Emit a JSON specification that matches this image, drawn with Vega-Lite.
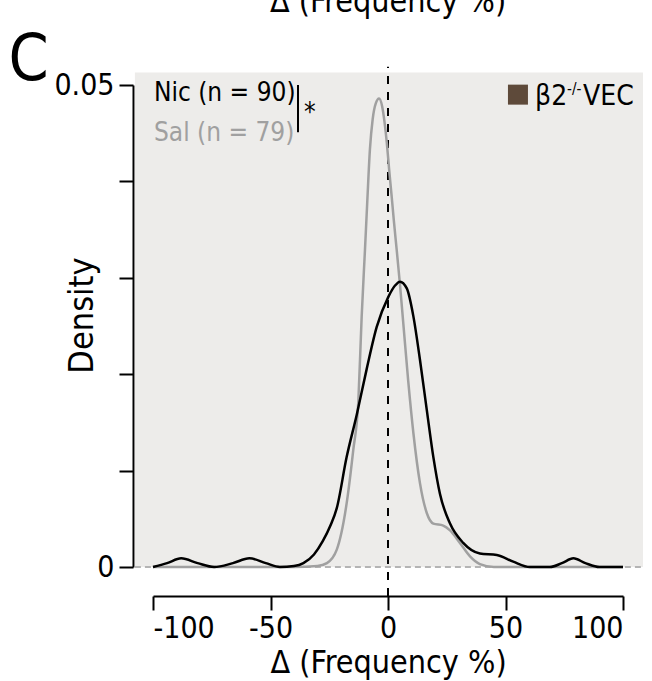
{
  "$schema": "https://vega.github.io/schema/vega-lite/v6.json",
  "width": 470,
  "height": 482,
  "autosize": {"type": "none"},
  "padding": {"left": 153, "top": 85, "right": 29, "bottom": 114},
  "background": "white",
  "data": {"values": [{}]},
  "config": {
    "font": "DejaVu Sans Condensed, Roboto, sans-serif",
    "view": {"stroke": null},
    "axis": {"grid": false, "domainColor": "black", "domainWidth": 2, "tickColor": "black", "tickWidth": 2, "tickSize": 14, "labelColor": "black", "titleColor": "black", "labelFont": "DejaVu Sans Condensed, Roboto, sans-serif", "titleFont": "DejaVu Sans Condensed, Roboto, sans-serif", "titleFontWeight": "normal"}
  },
  "datasets": {
    "curves": [
      {"group": "Nic", "x": -100, "d": 0.0},
      {"group": "Nic", "x": -94, "d": 0.0004},
      {"group": "Nic", "x": -88, "d": 0.0009},
      {"group": "Nic", "x": -81, "d": 0.0004},
      {"group": "Nic", "x": -74, "d": 0.0},
      {"group": "Nic", "x": -66, "d": 0.0004},
      {"group": "Nic", "x": -59, "d": 0.0009},
      {"group": "Nic", "x": -52, "d": 0.0004},
      {"group": "Nic", "x": -46, "d": 0.0},
      {"group": "Nic", "x": -40, "d": 0.0001},
      {"group": "Nic", "x": -36, "d": 0.0004},
      {"group": "Nic", "x": -31.5, "d": 0.0013},
      {"group": "Nic", "x": -27.7, "d": 0.0027},
      {"group": "Nic", "x": -24.5, "d": 0.0043},
      {"group": "Nic", "x": -21.8, "d": 0.0061},
      {"group": "Nic", "x": -17.6, "d": 0.0114},
      {"group": "Nic", "x": -13.3, "d": 0.0158},
      {"group": "Nic", "x": -9.1, "d": 0.0205},
      {"group": "Nic", "x": -4.8, "d": 0.0249},
      {"group": "Nic", "x": 0.1, "d": 0.0280},
      {"group": "Nic", "x": 3, "d": 0.0292},
      {"group": "Nic", "x": 5.1, "d": 0.0296},
      {"group": "Nic", "x": 8, "d": 0.0289},
      {"group": "Nic", "x": 10.8, "d": 0.0260},
      {"group": "Nic", "x": 13.6, "d": 0.0215},
      {"group": "Nic", "x": 16.5, "d": 0.0163},
      {"group": "Nic", "x": 19.3, "d": 0.0114},
      {"group": "Nic", "x": 22.1, "d": 0.0076},
      {"group": "Nic", "x": 26.4, "d": 0.0045},
      {"group": "Nic", "x": 32, "d": 0.0025},
      {"group": "Nic", "x": 39.1, "d": 0.0014},
      {"group": "Nic", "x": 46.3, "d": 0.00125},
      {"group": "Nic", "x": 53.3, "d": 0.00055},
      {"group": "Nic", "x": 60.4, "d": 0.0},
      {"group": "Nic", "x": 68.9, "d": 0.0},
      {"group": "Nic", "x": 74, "d": 0.0004},
      {"group": "Nic", "x": 78.9, "d": 0.0009},
      {"group": "Nic", "x": 84, "d": 0.0004},
      {"group": "Nic", "x": 90, "d": 0.0},
      {"group": "Nic", "x": 100, "d": 0.0},
      {"group": "Sal", "x": -100, "d": 0.0},
      {"group": "Sal", "x": -40, "d": 0.0},
      {"group": "Sal", "x": -30, "d": 0.0001},
      {"group": "Sal", "x": -26, "d": 0.0004},
      {"group": "Sal", "x": -21.8, "d": 0.0018},
      {"group": "Sal", "x": -17.6, "d": 0.0066},
      {"group": "Sal", "x": -14.8, "d": 0.0121},
      {"group": "Sal", "x": -12.6, "d": 0.0173},
      {"group": "Sal", "x": -11.2, "d": 0.0260},
      {"group": "Sal", "x": -9.8, "d": 0.0329},
      {"group": "Sal", "x": -8.8, "d": 0.0380},
      {"group": "Sal", "x": -7.7, "d": 0.0433},
      {"group": "Sal", "x": -6.5, "d": 0.0465},
      {"group": "Sal", "x": -5.2, "d": 0.0481},
      {"group": "Sal", "x": -3.8, "d": 0.0486},
      {"group": "Sal", "x": -2.5, "d": 0.0478},
      {"group": "Sal", "x": -1.5, "d": 0.0462},
      {"group": "Sal", "x": -0.5, "d": 0.0440},
      {"group": "Sal", "x": 0.5, "d": 0.0412},
      {"group": "Sal", "x": 1.5, "d": 0.0386},
      {"group": "Sal", "x": 2.5, "d": 0.0359},
      {"group": "Sal", "x": 3.7, "d": 0.0329},
      {"group": "Sal", "x": 5.1, "d": 0.0293},
      {"group": "Sal", "x": 6.5, "d": 0.0253},
      {"group": "Sal", "x": 8.6, "d": 0.0193},
      {"group": "Sal", "x": 10.8, "d": 0.0139},
      {"group": "Sal", "x": 13.6, "d": 0.0087},
      {"group": "Sal", "x": 16.5, "d": 0.0056},
      {"group": "Sal", "x": 19.3, "d": 0.0045},
      {"group": "Sal", "x": 23.5, "d": 0.0043},
      {"group": "Sal", "x": 26.4, "d": 0.0038},
      {"group": "Sal", "x": 30.6, "d": 0.0025},
      {"group": "Sal", "x": 34.9, "d": 0.0011},
      {"group": "Sal", "x": 39.1, "d": 0.0003},
      {"group": "Sal", "x": 45, "d": 0.0},
      {"group": "Sal", "x": 100, "d": 0.0}
    ]
  },
  "layer": [
    {
      "mark": {"type": "rect", "color": "#edecea", "clip": false},
      "encoding": {
        "x": {"datum": -107.7, "type": "quantitative", "scale": {"domain": [-100, 100], "nice": false, "zero": false}, "title": "Δ (Frequency %)",
          "axis": {"values": [-100, -50, 0, 50, 100], "offset": 29, "labelExpr": "datum.value + ''", "labelFontSize": 30, "labelPadding": 3, "titleFontSize": 32, "titleY": 76, "titleBaseline": "alphabetic"}},
        "x2": {"datum": 108.5},
        "y": {"datum": 0, "type": "quantitative", "scale": {"domain": [0, 0.05], "nice": false}, "title": "Density",
          "axis": {"values": [0, 0.01, 0.02, 0.03, 0.04, 0.05], "offset": 20, "labelExpr": "datum.value == 0 ? '0' : datum.value == 0.05 ? '0.05' : ''", "labelFontSize": 30, "labelPadding": 5, "titleFontSize": 34, "titleX": -34, "titleY": 230, "titleBaseline": "bottom", "titleAngle": -90}},
        "y2": {"datum": 0.0513}
      }
    },
    {
      "mark": {"type": "rule", "color": "#b4b4b4", "strokeWidth": 2, "strokeDash": [6, 4]},
      "encoding": {
        "x": {"datum": -107.7, "type": "quantitative"},
        "x2": {"datum": 108.5},
        "y": {"datum": 0, "type": "quantitative"}
      }
    },
    {
      "mark": {"type": "rule", "color": "black", "strokeWidth": 2, "strokeDash": [8, 8]},
      "encoding": {
        "x": {"datum": 0, "type": "quantitative"},
        "y": {"datum": -0.003, "type": "quantitative"},
        "y2": {"datum": 0.0519}
      }
    },
    {
      "data": {"name": "curves"},
      "transform": [{"filter": "datum.group == 'Sal'"}],
      "mark": {"type": "line", "color": "#a0a0a0", "strokeWidth": 2.5, "interpolate": "monotone"},
      "encoding": {
        "x": {"field": "x", "type": "quantitative", "title": "Δ (Frequency %)"},
        "y": {"field": "d", "type": "quantitative", "title": "Density"}
      }
    },
    {
      "data": {"name": "curves"},
      "transform": [{"filter": "datum.group == 'Nic'"}],
      "mark": {"type": "line", "color": "black", "strokeWidth": 2.5, "interpolate": "monotone"},
      "encoding": {
        "x": {"field": "x", "type": "quantitative", "title": "Δ (Frequency %)"},
        "y": {"field": "d", "type": "quantitative", "title": "Density"}
      }
    },
    {
      "mark": {"type": "text", "align": "left", "baseline": "alphabetic", "fontSize": 26, "color": "black"},
      "encoding": {"x": {"datum": -99.6, "type": "quantitative"}, "y": {"datum": 0.0483, "type": "quantitative"}, "text": {"value": "Nic (n = 90)"}}
    },
    {
      "mark": {"type": "text", "align": "left", "baseline": "alphabetic", "fontSize": 26, "color": "#a0a0a0"},
      "encoding": {"x": {"datum": -99.6, "type": "quantitative"}, "y": {"datum": 0.0442, "type": "quantitative"}, "text": {"value": "Sal (n = 79)"}}
    },
    {
      "mark": {"type": "rule", "color": "black", "strokeWidth": 2},
      "encoding": {"x": {"datum": -38.3, "type": "quantitative"}, "y": {"datum": 0.05, "type": "quantitative"}, "y2": {"datum": 0.0451}}
    },
    {
      "mark": {"type": "text", "align": "left", "baseline": "alphabetic", "fontSize": 26, "color": "black"},
      "encoding": {"x": {"datum": -35.7, "type": "quantitative"}, "y": {"datum": 0.0463, "type": "quantitative"}, "text": {"value": "*"}}
    },
    {
      "mark": {"type": "point", "shape": "square", "filled": true, "size": 400, "color": "#5e4a3a", "opacity": 1},
      "encoding": {"x": {"datum": 55.3, "type": "quantitative"}, "y": {"datum": 0.0490, "type": "quantitative"}}
    },
    {
      "mark": {"type": "text", "align": "left", "baseline": "alphabetic", "fontSize": 28, "color": "black"},
      "encoding": {"x": {"datum": 62.6, "type": "quantitative"}, "y": {"datum": 0.0479, "type": "quantitative"}, "text": {"value": "β2"}}
    },
    {
      "mark": {"type": "text", "align": "left", "baseline": "alphabetic", "fontSize": 15, "color": "black"},
      "encoding": {"x": {"datum": 76.2, "type": "quantitative"}, "y": {"datum": 0.0491, "type": "quantitative"}, "text": {"value": "-/-"}}
    },
    {
      "mark": {"type": "text", "align": "left", "baseline": "alphabetic", "fontSize": 28, "color": "black"},
      "encoding": {"x": {"datum": 83.0, "type": "quantitative"}, "y": {"datum": 0.0479, "type": "quantitative"}, "text": {"value": "VEC"}}
    },
    {
      "mark": {"type": "text", "align": "left", "baseline": "alphabetic", "fontSize": 64, "color": "black"},
      "encoding": {"x": {"datum": -161.5, "type": "quantitative"}, "y": {"datum": 0.0505, "type": "quantitative"}, "text": {"value": "C"}}
    },
    {
      "mark": {"type": "text", "align": "center", "baseline": "alphabetic", "fontSize": 32, "color": "black"},
      "encoding": {"x": {"datum": 0, "type": "quantitative"}, "y": {"datum": 0.05757, "type": "quantitative"}, "text": {"value": "Δ (Frequency %)"}}
    }
  ]
}
